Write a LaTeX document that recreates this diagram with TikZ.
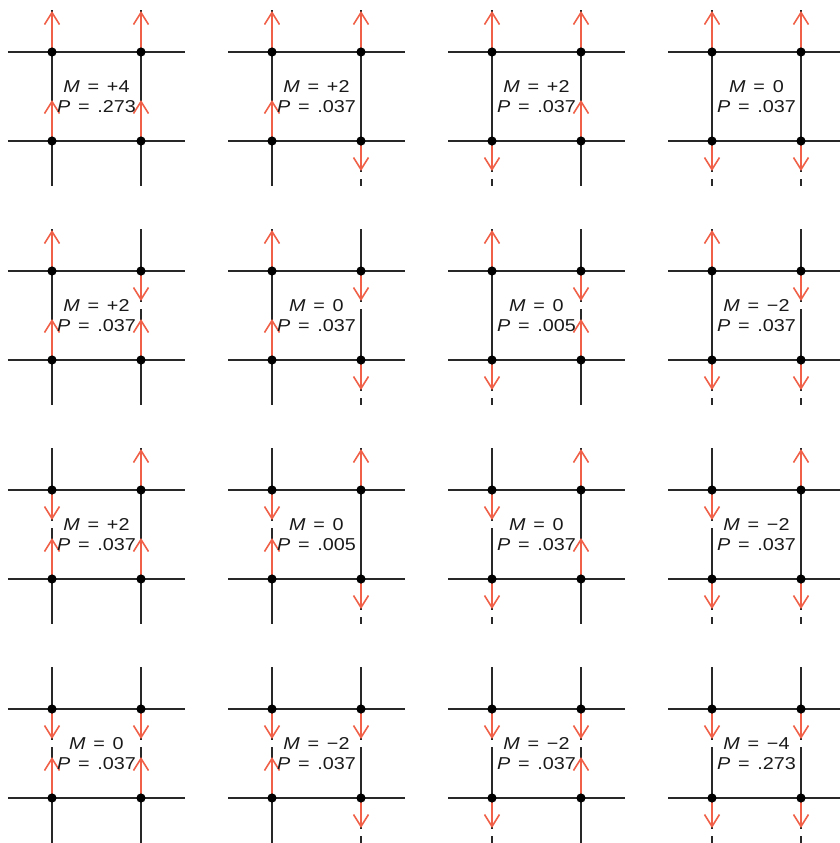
\documentclass[tikz,border=0pt]{standalone}
\usepackage{fontspec}
\setmainfont[FakeStretch=1.15]{Liberation Sans}
\usepackage{tikz}
\usetikzlibrary{arrows.meta}
\usepackage{xcolor}
\definecolor{spinred}{RGB}{240,96,72}
\definecolor{latticegray}{RGB}{40,40,40}
\newcommand{\eqsp}{\hspace{.45em}=\hspace{.45em}}

\begin{document}
\begin{tikzpicture}[x=0.5pt,y=-0.5pt,
    lattice/.style={draw=latticegray,line width=0.7pt},
    gap/.style={draw=white,line width=2.5pt},
    spin/.style={draw=spinred,line width=0.8pt,-{Straight Barb[length=6pt,width=7.5pt]}},
    dot/.style={circle,fill=black,inner sep=0pt,minimum size=4.6pt},
    stats/.style={font=\fontsize{8.6}{10}\selectfont,text=black!90,align=center}]
  \useasboundingbox (0,0) rectangle (840,843);
  % col/row/spins TL,TR,BL,BR (1 = up)/M/P
  \foreach \col/\row/\sa/\sb/\sc/\sd/\m/\p [count=\n] in {
      0/0/1/1/1/1/+4/.273, 1/0/1/1/1/0/+2/.037, 2/0/1/1/0/1/+2/.037, 3/0/1/1/0/0/0/.037,
      0/1/1/0/1/1/+2/.037, 1/1/1/0/1/0/0/.037, 2/1/1/0/0/1/0/.005, 3/1/1/0/0/0/−2/.037,
      0/2/0/1/1/1/+2/.037, 1/2/0/1/1/0/0/.005, 2/2/0/1/0/1/0/.037, 3/2/0/1/0/0/−2/.037,
      0/3/0/0/1/1/0/.037, 1/3/0/0/1/0/−2/.037, 2/3/0/0/0/1/−2/.037, 3/3/0/0/0/0/−4/.273}{
    \begin{scope}[shift={(52+220*\col,52+219*\row)}]
      \draw[lattice] (-44,0) -- (133,0) (-44,89) -- (133,89);
      \draw[lattice] (0,-42) -- (0,134) (89,-42) -- (89,134);
      \foreach \k/\xx/\yy/\up in {1/0/0/\sa,2/89/0/\sb,3/0/89/\sc,4/89/89/\sd}{
        \coordinate (s\n-\k) at (\xx,\yy);
        \ifnum\up=1
          \coordinate (e\n-\k) at (\xx,\yy-41);
        \else
          \coordinate (e\n-\k) at (\xx,\yy+30);
          \draw[gap] (\xx,\yy+31) -- (\xx,\yy+38);
        \fi
        \draw[spin] (s\n-\k) -- (e\n-\k);
        \node[dot] (d\n-\k) at (s\n-\k) {};
      }
      \node[stats] (m\n) at (44.5,44.5) {\textit{M}\eqsp\m\\\textit{P}\eqsp\p};
    \end{scope}
  }
\end{tikzpicture}
\end{document}
